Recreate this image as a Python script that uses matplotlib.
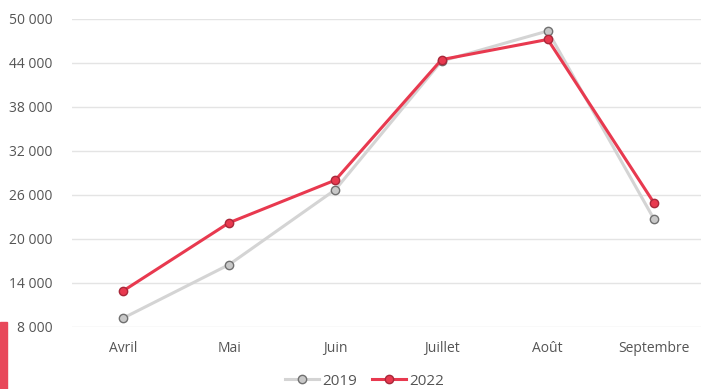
import matplotlib.pyplot as plt
from matplotlib.lines import Line2D
from matplotlib.patches import Rectangle

# Données
mois = ['Avril', 'Mai', 'Juin', 'Juillet', 'Août', 'Septembre']
valeurs_2019 = [9200, 16500, 26700, 44200, 48300, 22700]
valeurs_2022 = [12900, 22200, 28000, 44400, 47150, 24900]
graduations = [8000, 14000, 20000, 26000, 32000, 38000, 44000, 50000]

plt.rcParams['font.family'] = ['Open Sans', 'DejaVu Sans']

fig = plt.figure(figsize=(7.01, 3.89), dpi=100)
ax = fig.add_axes([72 / 701, 1 - 327 / 389, 1 - 72 / 701, (327 - 18.5) / 389])

x = list(range(len(mois)))
ax.plot(x, valeurs_2019, color='#d4d4d4', linewidth=2.2, marker='o', markersize=6,
        markerfacecolor='#c8c8c8', markeredgecolor='#707070', markeredgewidth=1,
        clip_on=False, zorder=3)
ax.plot(x, valeurs_2022, color='#e8394f', linewidth=2.2, marker='o', markersize=6,
        markerfacecolor='#e8394f', markeredgecolor='#a8283a', markeredgewidth=1,
        clip_on=False, zorder=4)

ax.set_xlim(-0.48, 5.443)
ax.set_ylim(8000, 50000)
ax.set_yticks(graduations)
ax.set_yticklabels([f'{v:,}'.replace(',', ' ') for v in graduations])
ax.set_xticks(x)
ax.set_xticklabels(mois)
ax.tick_params(axis='y', length=0, pad=14, labelsize=10, labelcolor='#555555')
ax.tick_params(axis='x', length=0, pad=10, labelsize=10, labelcolor='#555555')
ax.grid(axis='y', color='#e4e4e4', linewidth=1)
ax.set_axisbelow(True)
for s in ax.spines.values():
    s.set_visible(False)

# Légende en bas
poignees = [
    Line2D([], [], color='#d4d4d4', linewidth=2.2, marker='o', markersize=6,
           markerfacecolor='#c8c8c8', markeredgecolor='#707070'),
    Line2D([], [], color='#e8394f', linewidth=2.2, marker='o', markersize=6,
           markerfacecolor='#e8394f', markeredgecolor='#a8283a'),
]
fig.legend(poignees, ['2019', '2022'], loc='center', bbox_to_anchor=(0.52, 0.02),
           ncol=2, frameon=False, fontsize=11, labelcolor='#555555',
           handlelength=2.2, handletextpad=0.2, columnspacing=1.0)

# Bande rouge décorative en bas à gauche
fig.patches.append(Rectangle((0, 0), 7 / 701, 67 / 389, transform=fig.transFigure,
                             color='#e8485a', zorder=0))

fig.savefig('out.png', dpi=100)
